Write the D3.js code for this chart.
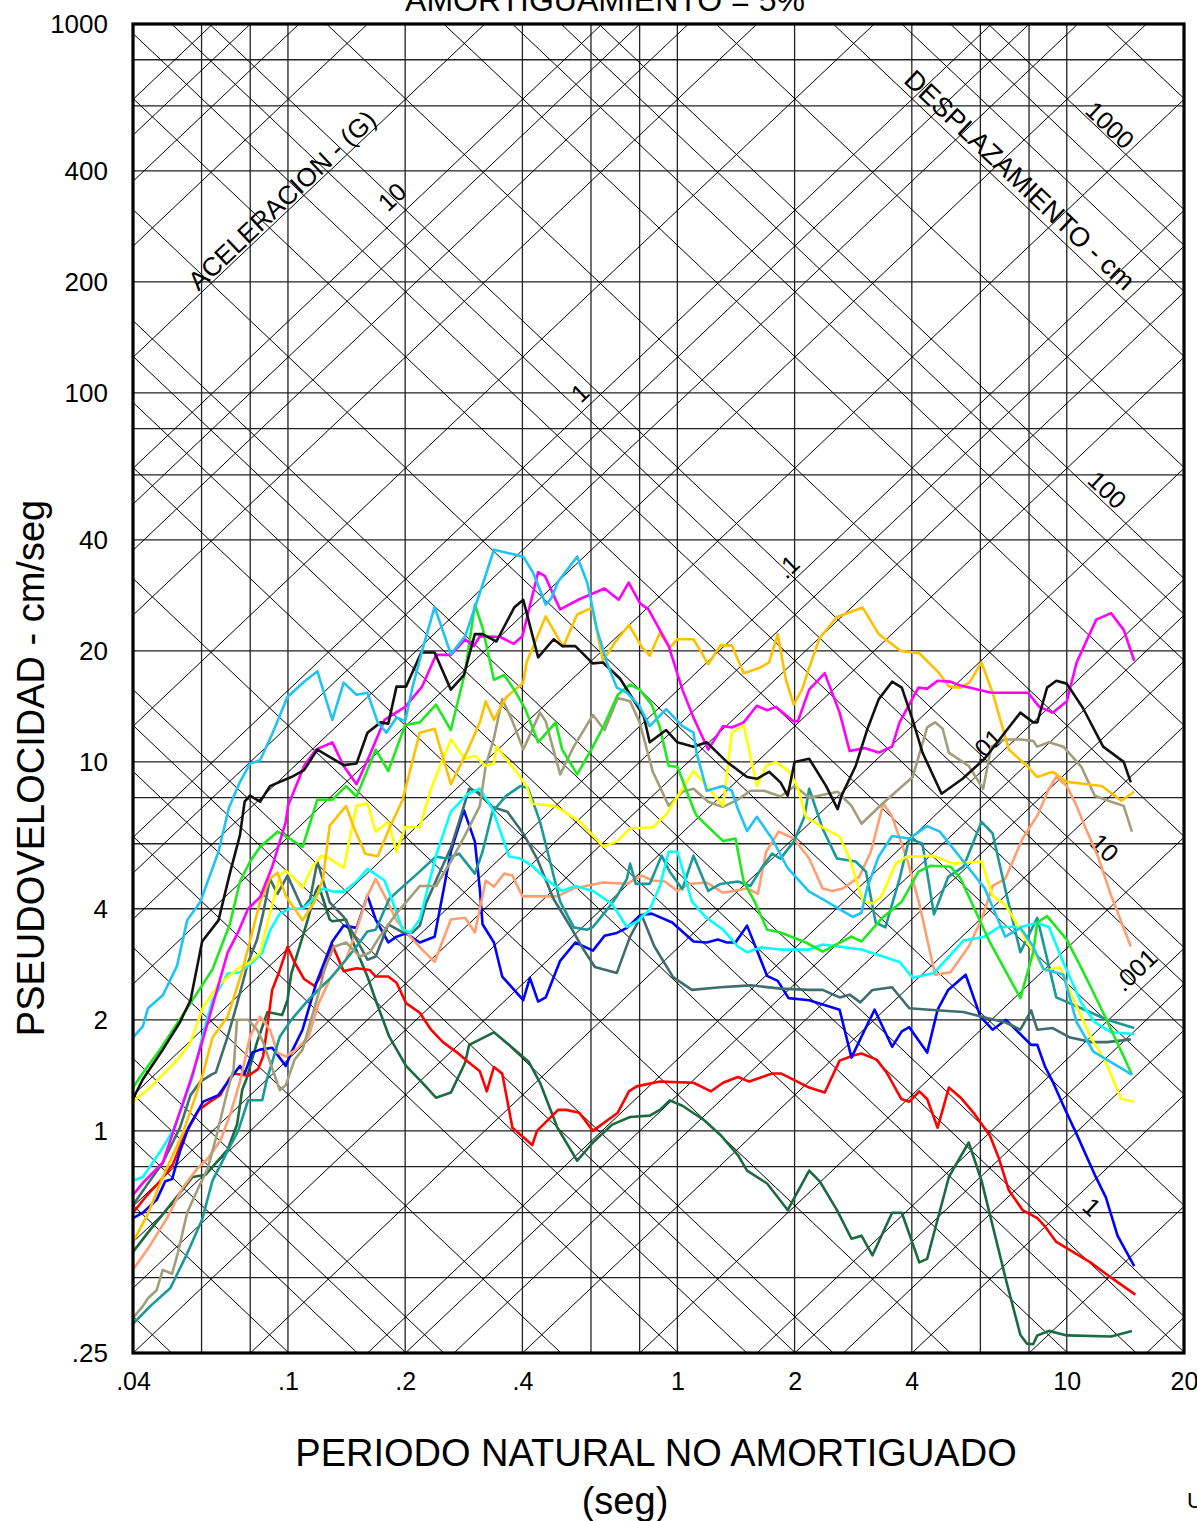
<!DOCTYPE html>
<html>
<head>
<meta charset="utf-8">
<script src="https://cdn.jsdelivr.net/npm/d3@7"></script>
<style>
  body { margin: 0; background: #fff; }
  svg { display: block; }
  text { font-family: "Liberation Sans", Arial, sans-serif; fill: #000; }
</style>
</head>
<body>
<svg id="chart" width="1197" height="1521"></svg>
<script>
// ---- axis / grid values ----
const periodTicks = [0.04, 0.1, 0.2, 0.4, 1, 2, 4, 10, 20];
const velocityTicks = [0.25, 1, 2, 4, 10, 20, 40, 100, 200, 400, 1000];
const periodGrid = [0.04, 0.06, 0.08, 0.1, 0.2, 0.4, 0.6, 0.8, 1, 2, 4, 6, 8, 10, 20];
const velocityGrid = [0.25, 0.4, 0.6, 0.8, 1, 2, 4, 6, 8, 10, 20, 40, 60, 80, 100, 200, 400, 600, 800, 1000];
const gridMantissas = [1, 2, 4, 6, 8];
const accDecades = [-5, -4, -3, -2, -1, 0, 1, 2];     // G
const dispDecades = [-3, -2, -1, 0, 1, 2, 3];          // cm

// diagonal labels: [text, period, velocity]
const accLabels = [["10", 0.185, 340], ["1", 0.562, 100], [".1", 1.92, 33.8], [".01", 6.2, 11.1], [".001", 15, 2.73]];
const dispLabels = [["1000", 12.9, 532], ["100", 12.7, 54.6], ["10", 12.5, 5.85], ["1", 11.6, 0.622]];

// ---- spectra: [period (s), pseudo-velocity (cm/s)] ----
const celeste = [[.040,1.79],[.0424,1.92],[.0437,2.15],[.0477,2.33],[.0519,2.80],[.0551,3.72],[.0596,4.18],[.0663,5.71],[.0705,7.5],[.0753,8.83],[.0799,9.9],[.0848,10.1],[.0911,11.9],[.0997,15.0],[.110,16.5],[.119,17.6],[.130,13.0],[.139,16.4],[.150,15.2],[.160,15.4],[.170,12.8],[.179,12.0],[.190,13.2],[.200,12.9],[.209,16.0],[.223,20.7],[.238,26.3],[.262,19.6],[.285,21.9],[.311,28.7],[.338,37.6],[.372,36.7],[.402,36.0],[.426,32.6],[.459,26.7],[.474,27.7],[.494,30.8],[.553,36.0],[.587,30.6],[.622,22.8],[.659,18.6],[.699,15.9],[.742,15.4],[.798,14.2],[.849,12.5],[.936,13.9],[1.03,12.5],[1.10,12.0],[1.12,10.6],[1.19,8.35],[1.31,8.6],[1.38,8.35],[1.43,7.45],[1.51,6.5],[1.60,7.1],[1.75,6.2],[1.92,5.15],[2.18,4.45],[2.36,4.25],[2.82,3.80],[2.97,3.90],[3.07,4.55],[3.29,5.55],[3.56,6.3],[3.94,6.2],[4.38,6.7],[4.72,6.47],[5.43,5.37],[6.15,4.55],[6.95,3.36],[7.6,3.55],[8.2,3.16],[8.7,2.75],[9.8,2.65],[10.6,1.97],[11.7,1.64],[14.7,1.42]];
const negro = [[.040,1.22],[.0424,1.38],[.0477,1.66],[.0528,1.97],[.0562,2.26],[.0602,3.26],[.0663,3.72],[.0709,4.98],[.0753,6.33],[.0774,7.8],[.0799,8.1],[.0848,7.8],[.0899,8.6],[.102,9.1],[.110,9.5],[.119,10.8],[.139,9.8],[.150,9.9],[.160,12.0],[.173,12.8],[.181,12.7],[.190,16.0],[.201,16.0],[.220,19.8],[.238,19.8],[.262,15.7],[.283,17.2],[.302,22.2],[.316,22.2],[.343,21.2],[.381,26.2],[.402,27.5],[.439,19.2],[.481,21.5],[.506,20.6],[.547,20.6],[.606,18.5],[.644,18.6],[.713,16.8],[.820,13.3],[.849,11.3],[.936,12.2],[1.00,11.3],[1.10,11.0],[1.19,11.3],[1.34,10.0],[1.51,9.1],[1.60,9.0],[1.72,9.4],[1.84,8.8],[1.92,8.1],[2.00,10.0],[2.18,10.2],[2.41,8.6],[2.58,7.45],[2.64,8.1],[2.87,9.75],[3.07,12.2],[3.29,14.8],[3.56,16.5],[3.77,15.9],[4.02,13.0],[4.26,10.6],[4.77,8.2],[5.40,9.0],[6.15,10.2],[7.6,13.6],[8.2,12.8],[8.4,12.8],[8.9,15.9],[9.4,16.6],[10.0,16.3],[11.0,14.0],[12.4,11.0],[14.0,10.0],[14.6,8.8]];
const magenta = [[.040,.67],[.0424,.723],[.0477,.82],[.0566,1.40],[.0622,1.96],[.0700,3.04],[.0745,3.46],[.0790,4.0],[.0848,4.3],[.0911,5.2],[.0987,6.87],[.100,7.6],[.110,9.75],[.118,10.8],[.130,11.3],[.139,9.75],[.150,8.7],[.162,10.4],[.177,13.0],[.200,14.1],[.221,16.0],[.240,19.5],[.262,19.5],[.285,21.5],[.300,20.6],[.311,21.9],[.351,21.8],[.380,20.9],[.400,21.9],[.439,32.7],[.457,31.9],[.500,25.9],[.560,27.6],[.650,29.5],[.707,27.5],[.750,30.6],[.802,26.9],[.843,25.9],[.950,20.6],[1.03,15.7],[1.10,13.2],[1.20,10.8],[1.31,12.5],[1.38,12.4],[1.48,12.8],[1.60,14.2],[1.70,13.8],[1.79,14.1],[1.98,12.9],[2.04,12.9],[2.18,15.7],[2.39,17.4],[2.61,13.6],[2.77,10.7],[3.02,10.9],[3.29,10.6],[3.56,11.0],[3.72,12.8],[4.16,15.9],[4.38,15.8],[4.66,16.6],[5.03,16.5],[5.34,16.1],[6.40,15.4],[7.95,15.4],[8.5,14.1],[9.2,13.6],[10.0,14.6],[10.6,18.6],[11.9,24.3],[13.0,25.3],[14.0,22.8],[14.9,18.8]];
const verde = [[.040,1.31],[.0417,1.40],[.0469,1.66],[.0551,2.15],[.0640,2.74],[.0709,3.63],[.0753,4.74],[.0799,5.37],[.0848,5.88],[.0940,6.47],[.101,6.2],[.109,5.88],[.119,7.9],[.130,7.9],[.141,8.6],[.150,8.06],[.168,10.8],[.181,9.45],[.200,12.6],[.218,12.8],[.240,14.3],[.262,12.2],[.285,17.5],[.302,26.7],[.316,23.1],[.338,16.7],[.359,17.2],[.381,15.7],[.407,13.9],[.439,11.3],[.487,12.8],[.506,10.8],[.553,9.25],[.604,10.9],[.644,12.4],[.703,15.2],[.756,16.2],[.800,15.7],[.859,14.3],[.902,12.4],[.950,9.75],[1.00,9.7],[1.10,7.45],[1.12,7.15],[1.31,6.1],[1.41,6.2],[1.48,4.74],[1.58,4.18],[1.70,3.51],[1.84,3.45],[2.14,3.24],[2.36,3.06],[2.80,3.36],[2.97,3.26],[3.36,3.78],[3.77,4.18],[4.16,5.04],[4.47,5.23],[5.03,5.2],[5.34,4.82],[6.35,3.24],[7.6,2.29],[8.2,3.05],[8.4,3.67],[8.9,3.82],[10.0,3.3],[11.0,2.71],[12.3,2.13],[14.0,1.59],[14.7,1.42]];
const naranja = [[.040,.50],[.0435,.59],[.0477,.75],[.0536,.98],[.0602,1.40],[.0640,1.79],[.0700,2.04],[.0763,2.71],[.0848,4.18],[.0899,4.82],[.0940,5.01],[.0987,4.34],[.109,3.72],[.117,4.18],[.123,4.82],[.128,6.72],[.141,7.6],[.148,6.6],[.158,5.64],[.170,5.55],[.182,6.6],[.197,7.9],[.218,12.0],[.238,12.3],[.262,8.7],[.290,10.8],[.311,12.8],[.322,14.6],[.338,13.0],[.364,15.0],[.402,16.4],[.410,18.6],[.459,24.8],[.509,20.5],[.553,25.1],[.604,26.2],[.644,18.8],[.692,21.1],[.751,23.5],[.810,20.5],[.849,19.4],[.902,22.4],[.956,20.4],[1.00,21.5],[1.10,21.5],[1.20,18.4],[1.29,20.7],[1.38,20.7],[1.48,17.4],[1.63,18.0],[1.72,18.6],[1.81,22.2],[1.90,16.7],[1.99,14.3],[2.09,15.7],[2.18,18.0],[2.32,21.7],[2.57,24.7],[2.99,26.2],[3.29,22.2],[3.74,20.0],[4.18,19.7],[4.68,17.5],[4.98,16.0],[5.34,15.9],[5.62,16.4],[6.04,18.6],[6.45,15.4],[7.1,10.8],[7.95,9.7],[8.4,9.1],[9.2,9.4],[10.0,8.83],[12.3,8.6],[13.8,7.85],[14.9,8.3]];
const amarillo = [[.040,1.20],[.0443,1.31],[.0477,1.42],[.0521,1.56],[.0562,1.74],[.0606,2.17],[.0663,2.49],[.0700,2.61],[.0753,2.78],[.0799,2.86],[.0848,3.04],[.0899,3.89],[.0953,4.92],[.0987,5.07],[.104,4.82],[.109,4.56],[.116,5.23],[.122,5.57],[.128,5.47],[.139,5.16],[.150,7.6],[.160,7.72],[.168,6.47],[.181,6.88],[.190,5.71],[.200,6.65],[.218,6.65],[.233,8.46],[.262,11.5],[.285,10.2],[.302,10.4],[.322,9.75],[.338,9.9],[.343,11.0],[.386,9.4],[.410,8.6],[.424,7.7],[.481,7.6],[.500,7.45],[.563,6.88],[.644,5.9],[.699,6.08],[.756,6.6],[.865,6.65],[.936,7.2],[1.03,8.46],[1.10,9.45],[1.19,8.6],[1.31,7.6],[1.38,12.0],[1.48,12.6],[1.60,8.6],[1.69,9.75],[1.79,10.0],[1.94,9.4],[2.03,8.6],[2.14,7.1],[2.36,6.65],[2.61,6.27],[2.77,5.47],[2.99,4.21],[3.17,4.13],[3.34,4.32],[3.64,5.3],[3.87,5.53],[4.53,5.57],[5.10,5.3],[6.04,5.37],[6.45,4.34],[6.98,4.08],[7.6,3.51],[8.2,3.05],[8.8,2.71],[9.6,2.78],[10.4,2.27],[11.6,1.77],[12.5,1.56],[13.8,1.22],[14.9,1.20]];
const caqui = [[.040,.311],[.0424,.335],[.0437,.352],[.0460,.37],[.0477,.42],[.0504,.41],[.0521,.465],[.0551,.60],[.0585,.69],[.0622,.79],[.0653,.955],[.0700,1.29],[.0725,1.47],[.0740,2.00],[.0790,2.00],[.0833,1.88],[.0863,1.74],[.0953,1.29],[.0987,1.33],[.104,1.56],[.109,1.66],[.120,2.37],[.124,2.73],[.131,3.15],[.141,3.24],[.153,2.97],[.162,3.04],[.172,3.36],[.190,3.89],[.201,4.16],[.218,4.61],[.240,4.61],[.262,5.37],[.285,6.33],[.311,7.6],[.322,9.75],[.338,11.6],[.355,14.8],[.377,12.9],[.402,10.8],[.444,13.6],[.459,12.9],[.500,9.25],[.542,11.0],[.607,13.4],[.650,12.2],[.703,14.9],[.756,14.6],[.800,12.8],[.865,9.4],[.950,7.6],[1.03,8.3],[1.10,8.46],[1.20,7.8],[1.31,7.55],[1.43,7.9],[1.54,8.35],[1.67,8.35],[1.84,8.06],[2.00,8.6],[2.18,8.0],[2.58,8.3],[2.80,7.6],[2.97,6.8],[3.36,7.7],[4.02,9.1],[4.38,12.4],[4.59,12.8],[4.80,12.3],[4.98,10.6],[5.6,9.75],[6.1,8.46],[6.4,11.0],[6.9,11.5],[7.6,11.5],[8.2,11.4],[8.4,11.0],[9.0,11.3],[9.8,11.0],[10.9,9.7],[11.8,8.1],[13.0,7.8],[14.0,7.6],[14.7,6.47]];
const cian = [[.040,.733],[.0424,.75],[.0477,.90],[.0506,1.00],[.0536,1.17],[.0569,1.40],[.0606,1.84],[.0640,2.26],[.0700,2.67],[.0753,2.69],[.0810,2.86],[.0859,3.04],[.0899,3.49],[.0953,3.88],[.101,4.0],[.109,4.0],[.114,4.16],[.123,4.54],[.131,4.45],[.139,4.45],[.150,4.74],[.160,5.13],[.177,4.77],[.186,4.16],[.197,3.51],[.206,3.45],[.218,3.74],[.226,4.34],[.240,5.57],[.262,7.33],[.290,8.2],[.311,8.46],[.335,7.45],[.370,5.54],[.395,5.47],[.424,5.23],[.459,4.82],[.506,4.47],[.547,4.61],[.607,4.47],[.680,4.12],[.742,3.57],[.791,3.70],[.849,3.98],[.902,4.61],[.950,5.71],[1.00,5.71],[1.09,4.18],[1.18,3.80],[1.31,3.51],[1.43,3.16],[1.51,3.05],[1.64,3.14],[1.84,3.10],[2.18,3.10],[2.36,3.20],[2.97,3.10],[3.72,2.87],[4.02,2.60],[4.56,2.68],[5.43,3.28],[6.15,3.36],[6.7,3.57],[7.6,3.57],[8.4,3.66],[9.0,3.57],[9.8,2.86],[10.9,2.22],[11.8,1.97],[13.0,1.85],[14.9,1.83]];
const turquesa = [[.040,.30],[.0443,.335],[.0499,.375],[.0551,.465],[.0602,.575],[.0640,.733],[.0700,.883],[.0745,1.00],[.0790,1.21],[.0859,1.21],[.0883,1.38],[.0953,1.80],[.102,2.00],[.111,2.22],[.120,2.42],[.128,2.58],[.139,2.86],[.150,3.16],[.160,3.47],[.168,3.51],[.182,4.25],[.194,4.52],[.215,4.98],[.240,5.54],[.255,5.47],[.275,5.64],[.302,4.98],[.316,5.71],[.335,7.33],[.364,8.1],[.395,8.6],[.413,8.5],[.424,7.9],[.444,6.88],[.471,5.37],[.500,4.18],[.542,3.56],[.587,3.51],[.607,3.57],[.659,3.97],[.699,4.32],[.742,4.82],[.756,5.30],[.782,4.67],[.849,4.67],[.911,5.57],[.956,5.04],[1.03,4.52],[1.10,5.57],[1.20,4.47],[1.29,4.67],[1.43,4.74],[1.54,4.61],[1.64,5.13],[1.75,5.64],[1.84,5.47],[1.99,6.08],[2.12,7.1],[2.18,8.46],[2.36,6.6],[2.57,5.47],[2.87,5.37],[3.05,5.04],[3.23,3.67],[3.42,3.56],[3.72,4.82],[3.94,6.2],[4.26,6.0],[4.56,3.86],[4.96,4.88],[5.43,5.2],[6.04,6.88],[6.45,6.4],[6.95,4.52],[7.6,3.05],[8.4,3.78],[9.4,2.30],[11.0,2.14],[12.7,2.00],[14.9,1.90]];
const pizarra = [[.040,.63],[.0435,.715],[.0477,.82],[.0528,1.02],[.0562,1.25],[.0596,1.36],[.0636,1.42],[.0653,1.44],[.0700,1.80],[.0740,2.21],[.0790,2.86],[.0833,3.30],[.0863,3.88],[.0899,4.82],[.0940,4.39],[.0997,4.92],[.109,4.0],[.114,4.25],[.119,5.37],[.128,4.16],[.139,3.80],[.150,3.30],[.160,2.91],[.168,2.97],[.181,3.63],[.197,3.45],[.209,3.45],[.218,3.60],[.226,4.13],[.240,4.77],[.262,5.85],[.275,6.88],[.292,8.46],[.307,8.3],[.335,7.55],[.366,7.33],[.402,6.4],[.436,5.47],[.481,4.25],[.532,3.57],[.572,3.12],[.614,2.78],[.699,2.68],[.756,3.36],[.810,3.84],[.873,3.16],[.975,2.61],[1.09,2.41],[1.29,2.45],[1.54,2.48],[1.84,2.43],[2.18,2.41],[2.36,2.41],[2.61,2.30],[2.77,2.34],[2.95,2.23],[3.17,2.41],[3.56,2.45],[3.94,2.15],[4.72,2.12],[5.43,2.10],[6.15,2.03],[6.95,1.97],[7.6,1.88],[8.1,2.12],[8.4,1.88],[9.2,1.90],[10.2,1.79],[11.6,1.74],[12.7,1.74],[14.6,1.77]];
const salmon = [[.040,.42],[.0443,.49],[.0489,.58],[.0536,.70],[.0585,.79],[.0622,.84],[.0670,.94],[.0709,1.10],[.0753,1.36],[.0799,1.80],[.0848,2.04],[.0899,1.88],[.0940,1.63],[.0987,1.59],[.105,1.66],[.113,1.80],[.120,2.22],[.128,2.57],[.141,2.91],[.150,3.51],[.160,4.34],[.168,4.82],[.177,4.34],[.190,3.72],[.206,3.36],[.221,3.10],[.238,2.87],[.262,3.74],[.285,3.78],[.302,3.45],[.322,4.77],[.338,4.59],[.359,4.98],[.377,4.92],[.400,4.32],[.444,4.32],[.492,4.32],[.542,4.54],[.644,4.71],[.742,4.67],[.810,4.92],[.865,4.77],[.929,4.74],[1.00,4.47],[1.07,4.67],[1.19,4.71],[1.31,4.42],[1.51,4.54],[1.61,4.39],[1.69,5.71],[1.82,6.47],[1.99,6.2],[2.18,5.47],[2.36,4.54],[2.50,4.47],[2.66,4.54],[2.93,4.88],[3.14,5.71],[3.38,7.72],[3.56,7.1],[3.90,5.4],[4.18,4.13],[4.59,2.65],[5.03,2.69],[5.6,3.16],[6.04,3.74],[6.45,4.61],[6.95,4.82],[7.7,6.2],[8.4,7.15],[9.0,8.46],[9.4,9.1],[10.0,8.6],[10.6,7.6],[11.0,6.88],[12.0,5.57],[13.0,4.34],[14.6,3.16]];
const azul = [[.040,.58],[.0424,.60],[.0460,.65],[.0484,.73],[.0504,.74],[.0528,.88],[.0555,1.02],[.0606,1.20],[.0663,1.25],[.0709,1.38],[.0753,1.50],[.0774,1.43],[.0810,1.63],[.0848,1.66],[.0911,1.68],[.0987,1.50],[.102,1.63],[.109,1.88],[.118,2.50],[.130,3.26],[.139,3.60],[.150,3.55],[.160,4.34],[.168,3.74],[.181,3.24],[.190,3.36],[.201,3.43],[.218,3.24],[.238,3.36],[.262,5.71],[.283,7.4],[.302,6.08],[.311,4.52],[.316,3.63],[.338,3.24],[.355,2.62],[.402,2.26],[.418,2.60],[.439,2.24],[.459,2.30],[.500,2.89],[.547,3.24],[.607,3.08],[.650,3.38],[.699,3.44],[.742,3.55],[.802,3.84],[.859,3.88],[.970,3.67],[1.10,3.26],[1.19,3.24],[1.27,3.30],[1.34,3.24],[1.41,3.24],[1.51,3.60],[1.70,2.63],[1.81,2.55],[1.93,2.29],[2.18,2.26],[2.61,2.13],[2.80,1.58],[2.97,1.80],[3.21,2.13],[3.56,1.69],[3.77,1.86],[3.94,1.91],[4.38,1.63],[4.66,2.13],[4.96,2.41],[5.50,2.65],[6.0,2.04],[6.45,1.88],[6.98,2.00],[8.1,1.71],[8.4,1.71],[8.8,1.49],[9.2,1.36],[9.8,1.17],[10.6,.98],[11.8,.76],[12.6,.66],[13.5,.52],[14.9,.43]];
const rojo = [[.040,.60],[.0435,.67],[.0469,.73],[.0506,.81],[.0542,.97],[.0590,1.14],[.0631,1.20],[.0670,1.25],[.0705,1.38],[.0725,1.43],[.0790,1.41],[.0838,1.47],[.0863,1.59],[.0883,1.88],[.0911,2.41],[.0953,2.73],[.0997,3.15],[.104,2.86],[.110,2.58],[.117,2.47],[.124,2.73],[.130,3.19],[.139,2.71],[.150,2.76],[.162,2.73],[.168,2.62],[.181,2.62],[.190,2.52],[.201,2.22],[.218,2.09],[.233,1.88],[.250,1.74],[.272,1.63],[.292,1.53],[.311,1.45],[.324,1.28],[.338,1.49],[.355,1.43],[.377,1.02],[.424,.915],[.436,1.00],[.494,1.14],[.518,1.14],[.560,1.12],[.607,1.00],[.703,1.12],[.751,1.28],[.786,1.32],[.902,1.36],[1.10,1.35],[1.22,1.28],[1.31,1.35],[1.43,1.40],[1.53,1.36],[1.75,1.43],[1.85,1.43],[2.18,1.31],[2.39,1.27],[2.61,1.55],[2.83,1.60],[2.97,1.62],[3.25,1.56],[3.46,1.43],[3.76,1.22],[3.94,1.20],[4.18,1.28],[4.38,1.22],[4.66,1.02],[4.98,1.31],[5.34,1.23],[5.8,1.11],[6.35,.97],[6.7,.84],[7.1,.69],[7.7,.61],[8.4,.58],[8.8,.55],[9.4,.50],[11.5,.44],[13.0,.40],[15.0,.36]];
const verdeOscuro = [[.040,.47],[.0443,.54],[.0499,.63],[.0569,.75],[.0614,.76],[.0700,.89],[.0740,1.04],[.0763,1.29],[.0782,1.38],[.0833,1.74],[.0886,2.10],[.0966,2.06],[.0997,2.26],[.102,2.67],[.111,3.57],[.118,4.47],[.120,4.61],[.128,3.74],[.130,3.70],[.141,3.74],[.147,3.24],[.160,2.62],[.168,2.26],[.182,1.80],[.201,1.50],[.220,1.36],[.240,1.23],[.262,1.27],[.285,1.53],[.292,1.71],[.338,1.85],[.377,1.68],[.415,1.54],[.444,1.35],[.492,1.02],[.553,.83],[.607,.93],[.680,1.04],[.756,1.09],[.849,1.10],[.902,1.14],[.956,1.21],[1.03,1.17],[1.17,1.07],[1.29,.975],[1.43,.86],[1.51,.78],[1.70,.72],[1.92,.61],[2.18,.78],[2.32,.73],[2.57,.61],[2.80,.51],[2.97,.52],[3.17,.46],[3.56,.60],[3.77,.60],[4.18,.44],[4.38,.45],[4.98,.75],[5.6,.93],[6.04,.733],[7.0,.39],[7.6,.28],[7.9,.265],[8.2,.264],[8.4,.279],[9.0,.287],[10.0,.279],[13.0,.277],[14.7,.287]];

const series = [
  { name: "verdeOscuro", color: "#1b6a40", data: verdeOscuro },
  { name: "rojo", color: "#ff0000", data: rojo },
  { name: "azul", color: "#0000ff", data: azul },
  { name: "salmon", color: "#ff9e70", data: salmon },
  { name: "pizarra", color: "#3e6d6d", data: pizarra },
  { name: "turquesa", color: "#1a9999", data: turquesa },
  { name: "cian", color: "#00ffff", data: cian },
  { name: "caqui", color: "#a19f7b", data: caqui },
  { name: "amarillo", color: "#ffff00", data: amarillo },
  { name: "naranja", color: "#ffc000", data: naranja },
  { name: "verde", color: "#1ee81e", data: verde },
  { name: "magenta", color: "#ff00ff", data: magenta },
  { name: "negro", color: "#111111", data: negro },
  { name: "celeste", color: "#1fc4f4", data: celeste }
];

// ---- layout ----
const G = 981; // cm/s2
const plotLeft = 133, plotRight = 1184, plotTop = 24, plotBottom = 1353;

const x = d3.scaleLog().domain([0.04, 20]).range([plotLeft, plotRight]);
const y = d3.scaleLog().domain([0.25, 1000]).range([plotBottom, plotTop]);

const svg = d3.select("#chart");

svg.append("defs").append("clipPath").attr("id", "plotClip")
  .append("rect")
  .attr("x", plotLeft).attr("y", plotTop)
  .attr("width", plotRight - plotLeft).attr("height", plotBottom - plotTop);

const fmt = d => String(d).replace(/^0\./, ".");

// ---- grid ----
const grid = svg.append("g").attr("clip-path", "url(#plotClip)");

grid.append("g").selectAll("line").data(periodGrid).join("line")
  .attr("x1", d => x(d)).attr("x2", d => x(d))
  .attr("y1", plotTop).attr("y2", plotBottom)
  .attr("stroke", "#222").attr("stroke-width", 1.3);

grid.append("g").selectAll("line").data(velocityGrid).join("line")
  .attr("x1", plotLeft).attr("x2", plotRight)
  .attr("y1", d => y(d)).attr("y2", d => y(d))
  .attr("stroke", "#222").attr("stroke-width", 1.3);

const accValues = [], dispValues = [];
accDecades.forEach(k => gridMantissas.forEach(m => accValues.push(m * Math.pow(10, k))));
dispDecades.forEach(k => gridMantissas.forEach(m => dispValues.push(m * Math.pow(10, k))));

const accV = (a, t) => a * G * t / (2 * Math.PI);
const dispV = (dd, t) => 2 * Math.PI * dd / t;
const T0 = 0.04, T1 = 20;

grid.append("g").selectAll("line").data(accValues).join("line")
  .attr("x1", x(T0)).attr("x2", x(T1))
  .attr("y1", d => y(accV(d, T0))).attr("y2", d => y(accV(d, T1)))
  .attr("stroke", "#000").attr("stroke-width", 1);

grid.append("g").selectAll("line").data(dispValues).join("line")
  .attr("x1", x(T0)).attr("x2", x(T1))
  .attr("y1", d => y(dispV(d, T0))).attr("y2", d => y(dispV(d, T1)))
  .attr("stroke", "#000").attr("stroke-width", 1);

// ---- diagonal labels ----
const accAngle = Math.atan2(y(2) - y(1), x(2) - x(1)) * 180 / Math.PI;
const dispAngle = -accAngle;

function diagText(txt, t, v, angle, size) {
  svg.append("text")
    .attr("transform", "translate(" + x(t) + "," + y(v) + ") rotate(" + angle + ")")
    .attr("text-anchor", "middle")
    .attr("dy", "0.35em")
    .style("font-size", size + "px")
    .text(txt);
}

accLabels.forEach(d => diagText(d[0], d[1], d[2], accAngle, 25));
dispLabels.forEach(d => diagText(d[0], d[1], d[2], dispAngle, 25));
diagText("ACELERACION - (G)", 0.0965, 333, accAngle, 26);
diagText("DESPLAZAMIENTO - cm", 7.58, 378, dispAngle, 27);

// ---- spectra ----
const line = d3.line().x(d => x(d[0])).y(d => y(d[1]));

svg.append("g").attr("clip-path", "url(#plotClip)")
  .selectAll("path").data(series).join("path")
  .attr("d", d => line(d.data))
  .attr("fill", "none")
  .attr("stroke", d => d.color)
  .attr("stroke-width", 2.6)
  .attr("stroke-linejoin", "round");

// ---- frame and axes ----
svg.append("rect")
  .attr("x", plotLeft).attr("y", plotTop)
  .attr("width", plotRight - plotLeft).attr("height", plotBottom - plotTop)
  .attr("fill", "none").attr("stroke", "#000").attr("stroke-width", 3.2);

const yAxis = d3.axisLeft(y).tickValues(velocityTicks).tickFormat(fmt).tickSize(0).tickPadding(25);
svg.append("g").attr("transform", "translate(" + plotLeft + ",0)").call(yAxis)
  .call(g => g.select(".domain").remove())
  .selectAll("text").style("font-size", "26px").attr("font-family", null);

const xAxis = d3.axisBottom(x).tickValues(periodTicks).tickFormat(fmt).tickSize(0).tickPadding(19);
svg.append("g").attr("transform", "translate(0," + plotBottom + ")").call(xAxis)
  .call(g => g.select(".domain").remove())
  .selectAll("text").style("font-size", "25px").attr("font-family", null);

// ---- titles ----
svg.append("text").attr("x", 605).attr("y", 11)
  .attr("text-anchor", "middle").style("font-size", "32px")
  .text("AMORTIGUAMIENTO = 5%");

svg.append("text")
  .attr("transform", "translate(44,768) rotate(-90)")
  .attr("text-anchor", "middle").style("font-size", "38px")
  .text("PSEUDOVELOCIDAD - cm/seg");

svg.append("text").attr("x", 656).attr("y", 1466)
  .attr("text-anchor", "middle").style("font-size", "38px")
  .text("PERIODO NATURAL NO AMORTIGUADO");

svg.append("text").attr("x", 625).attr("y", 1514)
  .attr("text-anchor", "middle").style("font-size", "38px")
  .text("(seg)");

svg.append("text").attr("x", 1187).attr("y", 1508)
  .style("font-size", "22px").text("U");
</script>
</body>
</html>
